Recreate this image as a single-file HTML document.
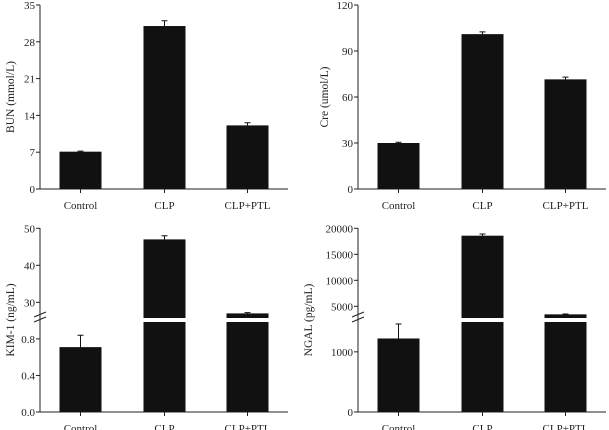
<!DOCTYPE html>
<html><head><meta charset="utf-8"><style>
html,body{margin:0;padding:0;background:#fff;}
svg{display:block;font-family:"Liberation Serif",serif;}
</style></head><body>
<svg id="chart" width="609" height="430" xmlns="http://www.w3.org/2000/svg"></svg>
<script>
const categories = ["Control","CLP","CLP+PTL"];
const bunValues = [7.1, 31.0, 12.1];
const bunErrors = [0.1, 1.0, 0.5];
const bunTicks = [0,7,14,21,28,35];
const creValues = [30, 101, 71.5];
const creErrors = [0.5, 1.5, 1.5];
const creTicks = [0,30,60,90,120];
const kimValues = [0.71, 47.0, 27.0];
const kimErrors = [0.13, 1.0, 0.2];
const kimLowTicks = [0.0,0.4,0.8];
const kimHighTicks = [30,40,50];
const kimLowTickLabels = ["0.0","0.4","0.8"];
const ngalValues = [1222, 18580, 3450];
const ngalErrors = [240, 320, 80];
const ngalLowTicks = [0,1000];
const ngalHighTicks = [5000,10000,15000,20000];

const NS="http://www.w3.org/2000/svg";
const svg=document.getElementById('chart');
function mk(tag,attrs,parent){const e=document.createElementNS(NS,tag);for(const k in attrs)e.setAttribute(k,attrs[k]);(parent||svg).appendChild(e);return e;}

function panel(cfg){
  const g=mk('g',{});
  
  
  const ax=cfg.axisX, y0=cfg.y0;
  // axis function: value -> y
  function yOf(v){
    if(!cfg.broken) return y0-(v-cfg.min)/(cfg.max-cfg.min)*(y0-cfg.top);
    if(v<=cfg.lowMax) return y0 - v/cfg.lowMax*(y0-cfg.lowTop);
    return cfg.hiRefY - (v-cfg.hiRef)*cfg.hiScale;
  }
  const xEnd=ax+248;
  const barW=42;
  const centers=[ax+40.5, ax+124.5, ax+207.5];
  // y axis
  const yl=mk('line',{x1:ax,y1:cfg.top,x2:ax,y2:y0,stroke:'#222','stroke-width':1},g);
  
  
  const xl=mk('line',{x1:ax,y1:y0,x2:xEnd,y2:y0,stroke:'#222','stroke-width':1},g);
  
  
  // ticks
  const ticks=cfg.ticks;
  ticks.forEach((t,i)=>{
    const y=yOf(t.v);
    mk('line',{x1:ax-4,y1:y,x2:ax,y2:y,stroke:'#222'},g);
    const tx=mk('text',{x:ax-5,y:y+4,'text-anchor':'end','font-size':11,fill:'#222'},g);
    tx.textContent=t.label;
    
    
  });
  // bars
  const vals=cfg.values, errs=cfg.errors;
  vals.forEach((v,i)=>{
    const cx=centers[i];
    const x=cx-barW/2;
    if(cfg.broken && v>cfg.lowMax){
      const b1=mk('rect',{x:x,y:cfg.lowTop,width:barW,height:y0-cfg.lowTop,fill:'#111'},g);
      
      
      const yt=yOf(v);
      const b2=mk('rect',{x:x,y:yt,width:barW,height:cfg.breakY-yt,fill:'#111'},g);
      
      
    } else {
      const yt=yOf(v);
      const b=mk('rect',{x:x,y:yt,width:barW,height:y0-yt,fill:'#111'},g);
      
      
    }
    const yt=yOf(v), ye=yOf(v+errs[i]), yb=yOf(Math.max(0,v-errs[i]));
    const e=mk('path',{d:`M${cx},${ye}V${yb}M${cx-3},${ye}H${cx+3}`,stroke:'#111','stroke-width':1,fill:'none'},g);
    
    
    mk('line',{x1:cx,y1:y0,x2:cx,y2:y0+4,stroke:'#222'},g);
    const cl=mk('text',{x:cx,y:y0+20,'text-anchor':'middle','font-size':11,fill:'#222'},g);
    cl.textContent=categories[i];
    
    
  });
  if(cfg.broken){
    const bm=mk('path',{d:`M${ax-6},${cfg.breakY-1}L${ax+6},${cfg.breakY-6}M${ax-6},${cfg.breakY+4}L${ax+6},${cfg.breakY-1}`,stroke:'#222','stroke-width':1,fill:'none'},g);
    
    
  }
  const tt=mk('text',{x:0,y:0,'text-anchor':'middle','font-size':11.5,fill:'#222',transform:`translate(${cfg.titleX},${cfg.titleY}) rotate(-90)`},g);
  tt.textContent=cfg.title;
  
  
}

panel({name:'bun-panel',axisX:40,y0:189,top:5,min:0,max:35,values:bunValues,errors:bunErrors,
  ticks:bunTicks.map(v=>({v:v,label:String(v)})),title:'BUN (mmol/L)',titleX:14,titleY:97});
panel({name:'cre-panel',axisX:358,y0:189,top:5,min:0,max:120,values:creValues,errors:creErrors,
  ticks:creTicks.map(v=>({v:v,label:String(v)})),title:'Cre (umol/L)',titleX:328,titleY:97});
panel({name:'kim1-panel',axisX:40,y0:412,top:228,broken:true,lowMax:0.985,lowTop:322,breakY:318,
  hiRef:30,hiRefY:302.3,hiScale:3.7,values:kimValues,errors:kimErrors,
  ticks:kimLowTicks.map((v,i)=>({v:v,label:kimLowTickLabels[i]})).concat(kimHighTicks.map(v=>({v:v,label:String(v)}))),
  title:'KIM-1 (ng/mL)',titleX:14,titleY:320});
panel({name:'ngal-panel',axisX:358,y0:412,top:228,broken:true,lowMax:1496,lowTop:322,breakY:318,
  hiRef:5000,hiRefY:306.3,hiScale:26/5000,values:ngalValues,errors:ngalErrors,
  ticks:ngalLowTicks.map(v=>({v:v,label:String(v)})).concat(ngalHighTicks.map(v=>({v:v,label:String(v)}))),
  title:'NGAL (pg/mL)',titleX:312,titleY:320});
</script>
</body></html>
